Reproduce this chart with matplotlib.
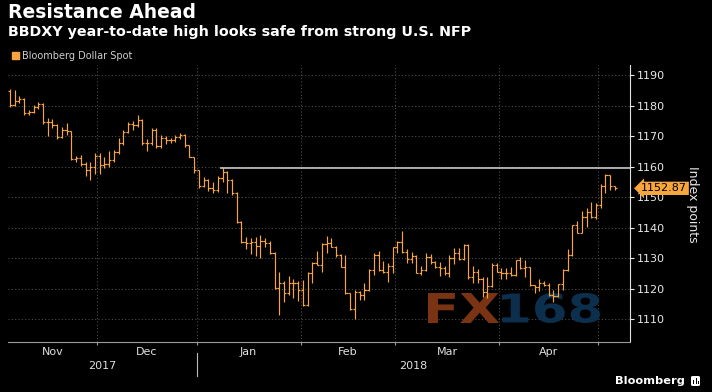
import numpy as np
import pandas as pd
import matplotlib
matplotlib.use("Agg")
import matplotlib.pyplot as plt
from matplotlib.textpath import TextPath
from matplotlib.patches import PathPatch, Rectangle, FancyBboxPatch
from matplotlib.font_manager import FontProperties
from matplotlib.transforms import Affine2D, blended_transform_factory

# Bloomberg Dollar Spot (BBDXY), daily OHLC, Nov 6 2017 - May 4 2018
dates = pd.bdate_range("2017-11-06", "2018-05-04", freq="C", holidays=["2018-01-01"])

opens = [
    # Nov
    1184.8, 1180.2, 1181.6, 1182.0, 1177.5, 1178.0, 1179.5, 1180.5, 1174.6, 1174.7,
    1173.5, 1169.8, 1172.0, 1171.6, 1162.4, 1162.8, 1161.0, 1158.9, 1160.0,
    # Dec
    1163.5, 1160.5, 1161.0, 1162.0, 1164.9, 1167.8, 1171.4, 1174.0, 1173.5, 1175.2,
    1167.6, 1167.6, 1172.0, 1166.8, 1169.3, 1168.7, 1168.7, 1169.7, 1170.3, 1167.0, 1163.0,
    # Jan
    1158.8, 1153.6, 1155.6, 1153.0, 1152.3, 1156.2, 1158.3, 1155.6, 1151.3, 1141.9,
    1135.4, 1135.0, 1135.4, 1134.0, 1135.7, 1135.0, 1131.7, 1120.2, 1121.8, 1118.5,
    1121.8, 1121.8,
    # Feb
    1119.5, 1114.6, 1125.2, 1128.4, 1127.8, 1134.6, 1135.0, 1133.7, 1131.0, 1127.2,
    1118.4, 1113.2, 1119.0, 1118.0, 1119.4, 1126.0, 1131.0, 1126.0, 1125.5, 1127.5,
    # Mar
    1133.5, 1135.4, 1132.0, 1129.6, 1130.6, 1125.2, 1126.0, 1130.4, 1128.8, 1127.0,
    1126.6, 1125.0, 1129.9, 1131.7, 1129.6, 1134.3, 1123.8, 1125.6, 1123.0, 1119.0,
    1120.8, 1127.7,
    # Apr
    1125.6, 1125.0, 1125.0, 1124.4, 1129.3, 1126.6, 1127.0, 1121.1, 1120.5, 1121.9,
    1121.1, 1117.9, 1117.5, 1121.4, 1126.0, 1131.0, 1140.8, 1138.3, 1143.6, 1145.2,
    1143.6,
    # May
    1147.4, 1153.6, 1157.2, 1153.6,
]

highs = [
    1185.5, 1185.0, 1183.0, 1182.6, 1178.5, 1180.2, 1181.2, 1180.8, 1176.0, 1175.5,
    1174.0, 1173.0, 1174.2, 1171.8, 1163.5, 1163.8, 1161.5, 1161.5, 1164.5,
    1164.5, 1163.0, 1165.0, 1165.5, 1169.5, 1172.0, 1174.5, 1175.0, 1177.0, 1175.5,
    1169.0, 1172.8, 1172.5, 1170.5, 1170.0, 1169.5, 1170.5, 1171.0, 1170.8, 1167.2, 1163.2,
    1159.0, 1156.5, 1156.0, 1155.0, 1157.0, 1159.5, 1158.5, 1156.0, 1151.6, 1142.2,
    1137.0, 1136.5, 1137.0, 1137.5, 1136.5, 1135.5, 1131.9, 1125.5, 1122.5, 1124.0,
    1123.0, 1122.5,
    1122.8, 1125.5, 1128.6, 1132.4, 1134.9, 1137.2, 1136.5, 1133.9, 1131.2, 1131.0,
    1118.6, 1119.5, 1119.2, 1121.9, 1126.4, 1131.6, 1132.4, 1129.0, 1128.4, 1133.7,
    1135.7, 1139.0, 1133.0, 1132.0, 1130.9, 1127.4, 1131.7, 1131.5, 1129.1, 1128.8,
    1127.4, 1131.0, 1133.2, 1133.2, 1134.5, 1134.5, 1127.4, 1126.3, 1123.9, 1123.9,
    1128.3, 1128.3,
    1126.6, 1126.6, 1127.0, 1129.5, 1130.4, 1129.3, 1127.2, 1121.3, 1123.3, 1122.6,
    1121.7, 1119.5, 1121.5, 1126.3, 1132.9, 1140.9, 1142.2, 1145.5, 1146.3, 1148.5,
    1148.0,
    1154.3, 1157.5, 1157.2, 1153.6,
]

lows = [
    1179.5, 1179.8, 1180.8, 1177.0, 1176.8, 1177.6, 1178.8, 1174.0, 1170.0, 1172.8,
    1169.2, 1169.5, 1170.3, 1162.0, 1161.5, 1160.2, 1157.0, 1155.6, 1157.5,
    1157.5, 1159.5, 1159.8, 1161.5, 1164.0, 1167.0, 1171.0, 1172.0, 1173.0, 1167.0,
    1165.0, 1167.0, 1166.0, 1166.2, 1167.5, 1167.8, 1168.0, 1169.0, 1166.5, 1163.0, 1157.9,
    1153.0, 1153.2, 1152.0, 1151.5, 1151.8, 1155.0, 1151.5, 1150.8, 1141.5, 1134.8,
    1133.0, 1131.3, 1130.8, 1130.0, 1133.5, 1131.2, 1120.0, 1111.3, 1115.5, 1118.0,
    1117.0, 1116.0,
    1114.3, 1114.4, 1121.8, 1127.6, 1125.5, 1131.6, 1133.5, 1130.4, 1127.0, 1118.2,
    1113.0, 1110.0, 1116.2, 1116.4, 1119.2, 1124.4, 1125.8, 1125.0, 1122.2, 1125.0,
    1131.7, 1131.7, 1128.5, 1128.5, 1125.0, 1124.4, 1125.8, 1128.0, 1126.8, 1124.1,
    1124.4, 1123.9, 1128.0, 1129.4, 1129.4, 1123.3, 1121.7, 1121.7, 1117.3, 1116.8,
    1120.6, 1125.3,
    1123.3, 1123.1, 1124.2, 1124.2, 1126.3, 1123.7, 1121.0, 1118.6, 1119.3, 1121.0,
    1117.5, 1115.7, 1117.3, 1119.5, 1125.8, 1130.8, 1138.1, 1138.1, 1140.3, 1143.0,
    1142.7,
    1146.3, 1151.2, 1152.3, 1152.3,
]

closes = [
    1180.2, 1181.6, 1182.0, 1177.5, 1178.0, 1179.5, 1180.5, 1174.6, 1174.7, 1173.5,
    1169.8, 1172.0, 1171.6, 1162.4, 1162.8, 1161.0, 1158.9, 1160.0, 1163.5,
    1160.5, 1161.0, 1162.0, 1164.9, 1167.8, 1171.4, 1174.0, 1173.5, 1175.2, 1167.6,
    1167.6, 1172.0, 1166.8, 1169.3, 1168.7, 1168.7, 1169.7, 1170.3, 1167.0, 1163.0, 1158.8,
    1153.6, 1155.6, 1153.0, 1152.3, 1156.2, 1158.3, 1155.6, 1151.3, 1141.9, 1135.4,
    1135.0, 1135.4, 1134.0, 1135.7, 1135.0, 1131.7, 1120.2, 1121.8, 1118.5, 1121.8,
    1121.8, 1119.5,
    1114.6, 1125.2, 1128.4, 1127.8, 1134.6, 1135.0, 1133.7, 1131.0, 1127.2, 1118.4,
    1113.2, 1119.0, 1118.0, 1119.4, 1126.0, 1131.0, 1126.0, 1125.5, 1127.5, 1133.5,
    1135.4, 1132.0, 1129.6, 1130.6, 1125.2, 1126.0, 1130.4, 1128.8, 1127.0, 1126.6,
    1125.0, 1129.9, 1131.7, 1129.6, 1134.3, 1123.8, 1125.6, 1123.0, 1119.0, 1120.8,
    1127.7, 1125.6,
    1125.0, 1125.0, 1124.4, 1129.3, 1126.6, 1127.0, 1121.1, 1120.5, 1121.9, 1121.1,
    1117.9, 1117.5, 1121.4, 1126.0, 1131.0, 1140.8, 1138.3, 1143.6, 1145.2, 1143.6,
    1147.4,
    1153.6, 1157.2, 1153.6, 1152.87,
]

y_ticks = [1110, 1120, 1130, 1140, 1150, 1160, 1170, 1180, 1190]

ORANGE = "#f7a53d"
W, H = 712, 392

fig = plt.figure(figsize=(W / 100, H / 100), dpi=100, facecolor="black")
ax = fig.add_axes([8 / W, 1 - 342 / H, 622 / W, 277 / H], facecolor="black")

x = np.arange(len(dates))
o = np.array(opens)
h = np.array(highs)
l = np.array(lows)
c = np.array(closes)

# month boundaries
bounds = [i - 0.5 for i in range(1, len(dates)) if dates[i].month != dates[i - 1].month]
xmin, xmax = -0.4, 131.2
ax.set_xlim(xmin, xmax)
ax.set_ylim(1102.5, 1193.3)

for yv in y_ticks:
    ax.axhline(yv, color="#4d4d4d", lw=0.8, ls=(0, (1, 2)), zorder=1)
for b in bounds:
    ax.axvline(b, color="#4d4d4d", lw=0.8, ls=(0, (1, 2)), zorder=1)

# OHLC bars
ax.vlines(x, l, h, color=ORANGE, lw=0.85, zorder=3)
ax.hlines(o, x - 0.45, x, color=ORANGE, lw=0.85, zorder=3)
ax.hlines(c, x, x + 0.45, color=ORANGE, lw=0.85, zorder=3)

# year-to-date high resistance line
ytd = np.array([d.year == 2018 for d in dates])
i_hi = np.where(ytd)[0][np.argmax(h[ytd])]
ax.hlines(h[i_hi], i_hi - 0.5, xmax, color="#d8d8d8", lw=1.1, zorder=4)

# axes styling
for s in ["left", "top"]:
    ax.spines[s].set_visible(False)
ax.spines["right"].set_color("#e0e0e0")
ax.spines["bottom"].set_color("#9a9a9a")
ax.yaxis.tick_right()
ax.set_yticks(y_ticks)
ax.tick_params(axis="y", colors="#e8e8e8", labelsize=8, length=3, width=0.8, pad=2)
ax.set_xticks(bounds)
ax.set_xticklabels([])
ax.tick_params(axis="x", colors="#9a9a9a", length=2, width=0.8)

# month and year labels
edges = [xmin] + bounds + [xmax]
month_idx = [0] + [int(b + 0.5) for b in bounds]
fy = blended_transform_factory(ax.transData, fig.transFigure)
for k, i in enumerate(month_idx[:-1]):
    ax.text((edges[k] + edges[k + 1]) / 2, 1 - 352 / H, dates[i].strftime("%b"),
            transform=fy, ha="center", va="center", color="#e0e0e0", fontsize=8)
jan = [b for b, i in zip(bounds, month_idx[1:]) if dates[i].month == 1][0]
ax.text((xmin + jan) / 2, 1 - 366 / H, "2017", transform=fy, ha="center", va="center",
        color="#e0e0e0", fontsize=8)
ax.text((jan + xmax) / 2, 1 - 366 / H, "2018", transform=fy, ha="center", va="center",
        color="#e0e0e0", fontsize=8)
ax.plot([jan, jan], [1 - 353 / H, 1 - 376 / H], transform=fy, color="#bbbbbb",
        lw=0.8, clip_on=False)

# last price tag
ax.text(1.018, c[-1], "%.2f" % c[-1], transform=ax.get_yaxis_transform(),
        ha="left", va="center", fontsize=8, color="black", zorder=6,
        bbox=dict(boxstyle="larrow,pad=0.15", fc=ORANGE, ec="none"))

fig.text(692 / W, 1 - 204 / H, "Index points", rotation=270, color="#e8e8e8",
         fontsize=9, ha="center", va="center")

# titles and legend
fig.text(8 / W, 1 - 3 / H, "Resistance Ahead", color="white", fontsize=13.5,
         fontweight="bold", ha="left", va="top")
fig.text(8 / W, 1 - 25 / H, "BBDXY year-to-date high looks safe from strong U.S. NFP",
         color="white", fontsize=10.3, fontweight="bold", ha="left", va="top")
fig.patches.append(Rectangle((12 / W, 1 - 59 / H), 7 / W, 7 / H, color=ORANGE,
                             transform=fig.transFigure, figure=fig))
fig.text(22 / W, 1 - 56 / H, "Bloomberg Dollar Spot", color="#cfcfcf", fontsize=7,
         ha="left", va="center")


# FX168 watermark
def stamp(text, box, color):
    tp = TextPath((0, 0), text, size=1, prop=FontProperties(family="DejaVu Sans", weight="bold"))
    ext = tp.get_extents()
    x0, y0, x1, y1 = box
    tr = (Affine2D().translate(-ext.x0, -ext.y0)
          .scale((x1 - x0) / ext.width / W, (y1 - y0) / ext.height / H)
          .translate(x0 / W, 1 - y1 / H))
    ax.add_patch(PathPatch(tr.transform_path(tp), transform=fig.transFigure,
                           fc=color, ec="none", zorder=2, clip_on=False))


stamp("FX", (428, 293, 499, 323), "#7a3414")
stamp("168", (502, 293, 600, 323), "#0b2f4c")

# Bloomberg logo
fig.text(685 / W, 1 - 381 / H, "Bloomberg", color="white", fontsize=8.2,
         fontweight="bold", ha="right", va="center")
fig.patches.append(FancyBboxPatch((691 / W, 1 - 386 / H), 9 / W, 10 / H,
                                  boxstyle="round,pad=0,rounding_size=0.003",
                                  fc="white", ec="none", transform=fig.transFigure, figure=fig))
for bx, bh in [(693, 4), (695.5, 6), (698, 3)]:
    fig.patches.append(Rectangle((bx / W, 1 - 384 / H), 1.2 / W, bh / H, fc="black",
                                 ec="none", transform=fig.transFigure, figure=fig))

fig.savefig("out.png", dpi=100, facecolor="black")
